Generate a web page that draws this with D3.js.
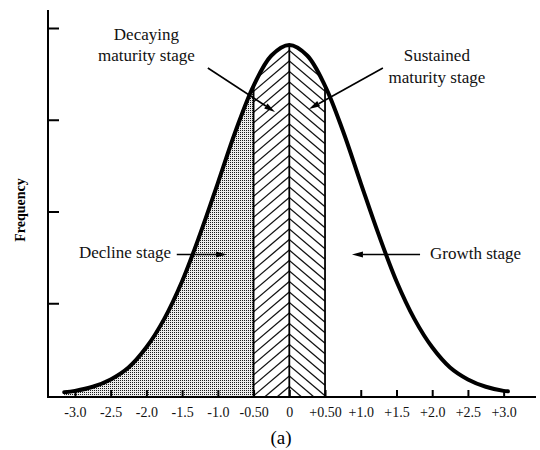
<!DOCTYPE html>
<html><head><meta charset="utf-8">
<script src="https://cdn.jsdelivr.net/npm/d3@7"></script>
<style>html,body{margin:0;padding:0;background:#fff;}svg{display:block;}</style>
</head><body>
<svg id="chart" width="540" height="450"></svg>
<script>
// ---- data ----
const curveX = [-3.15,-3.0,-2.75,-2.5,-2.25,-2.0,-1.75,-1.5,-1.25,-1.0,-0.75,-0.5,-0.25,0,0.25,0.5,0.75,1.0,1.25,1.5,1.75,2.0,2.25,2.5,2.75,3.0,3.06];
const curveY = [0.03,0.045,0.09,0.17,0.30,0.52,0.83,1.24,1.75,2.31,2.88,3.37,3.70,3.815,3.70,3.37,2.88,2.31,1.75,1.24,0.83,0.52,0.30,0.17,0.09,0.045,0.04];
const xTickValues = [-3.0,-2.5,-2.0,-1.5,-1.0,-0.5,0,0.5,1.0,1.5,2.0,2.5,3.0];
const xTickLabels = ["-3.0","-2.5","-2.0","-1.5","-1.0","-0.50","0","+0.50","+1.0","+1.5","+2.0","+2.5","+3.0"];
const yTickValues = [1,2,3,4];
const stageBounds = [-0.5, 0, 0.5];
const annotations = [
  {lines:["Decaying","maturity stage"], x:-2.0, y:[3.87,3.64], anchor:"middle", from:[-1.14,3.564], to:[-0.20,3.084]},
  {lines:["Sustained","maturity stage"], x:2.065, y:[3.64,3.40], anchor:"middle", from:[1.31,3.564], to:[0.276,3.117]},
  {lines:["Decline stage"], x:-2.944, y:[1.49], anchor:"start", from:[-1.575,1.531], to:[-0.873,1.531]},
  {lines:["Growth stage"], x:1.97, y:[1.48], anchor:"start", from:[1.83,1.531], to:[0.877,1.531]}
];

const svg = d3.select("#chart");
const x = d3.scaleLinear().domain([0,3]).range([289.3, 503.65]);
const y = d3.scaleLinear().domain([0,4]).range([395, 28]);
const axisY = 397, axisX = 48;
const pts = curveX.map((v,i)=>[v,curveY[i]]);
const serif = "'Liberation Serif','Times New Roman',serif";

// pattern for stipple
const defs = svg.append("defs");
const pat = defs.append("pattern").attr("id","stip").attr("patternUnits","userSpaceOnUse").attr("width",2).attr("height",2);
pat.append("rect").attr("width",2).attr("height",2).attr("fill","#ececec");
pat.append("rect").attr("width",1).attr("height",1).attr("fill","#1a1a1a");

const line = d3.line().x(d=>x(d[0])).y(d=>y(d[1])).curve(d3.curveCatmullRom.alpha(0.5));
const area = d3.area().x(d=>x(d[0])).y0(axisY).y1(d=>y(d[1])).curve(d3.curveCatmullRom.alpha(0.5));

// clip paths
function clipRange(id, a, b){
  const cp = defs.append("clipPath").attr("id", id);
  cp.append("path").attr("d", area(pts));
  const cp2 = defs.append("clipPath").attr("id", id+"r");
  cp2.append("rect").attr("x", x(a)).attr("y", 0).attr("width", x(b)-x(a)).attr("height", axisY);
}
clipRange("cL", -0.5, 0);
clipRange("cR", 0, 0.5);
clipRange("cS", -3.3, -0.5);

// stippled decline region
svg.append("g").attr("clip-path","url(#cSr)")
  .append("path").attr("d", area(pts)).attr("fill","url(#stip)");

// hatching
const slope = 0.85, step = 10.5;
const gL = svg.append("g").attr("clip-path","url(#cLr)").append("g").attr("clip-path","url(#cL)");
const gR = svg.append("g").attr("clip-path","url(#cRr)").append("g").attr("clip-path","url(#cR)");
const x0 = x(0), xl = x(-0.5), xr = x(0.5);
for(let k=-6;k<40;k++){
  const yk = axisY - k*step;
  gL.append("line").attr("x1",x0).attr("y1",yk).attr("x2",xl).attr("y2",yk+slope*(x0-xl))
    .attr("stroke","#111").attr("stroke-width",1.3);
  gR.append("line").attr("x1",x0).attr("y1",yk).attr("x2",xr).attr("y2",yk+slope*(xr-x0))
    .attr("stroke","#111").attr("stroke-width",1.3);
}
// stage boundary verticals
const interp = v => {
  const p = svg.append("path").attr("d", line(pts)).attr("fill","none");
  const node = p.node(), L = node.getTotalLength();
  let lo=0, hi=L;
  for(let i=0;i<40;i++){const m=(lo+hi)/2; if(node.getPointAtLength(m).x < x(v)) lo=m; else hi=m;}
  const yy = node.getPointAtLength(lo).y; p.remove(); return yy;
};
stageBounds.forEach(v=>{
  svg.append("line").attr("x1",x(v)).attr("x2",x(v)).attr("y1",axisY).attr("y2",interp(v))
    .attr("stroke","#000").attr("stroke-width",1.8);
});

// curve
svg.append("path").attr("d", line(pts)).attr("fill","none").attr("stroke","#000")
  .attr("stroke-width",4).attr("stroke-linecap","round").attr("stroke-linejoin","round");

// axes
svg.append("line").attr("x1",axisX).attr("x2",axisX).attr("y1",10).attr("y2",axisY+1).attr("stroke","#000").attr("stroke-width",2);
svg.append("line").attr("x1",axisX-1).attr("x2",536).attr("y1",axisY).attr("y2",axisY).attr("stroke","#000").attr("stroke-width",2);

const gx = svg.append("g").attr("transform",`translate(0,${axisY})`)
  .call(d3.axisBottom(x).tickValues(xTickValues).tickSize(-7).tickPadding(10)
    .tickFormat((d,i)=>xTickLabels[i]));
gx.select(".domain").remove();
gx.selectAll(".tick line").attr("stroke","#000").attr("stroke-width",2);
gx.selectAll(".tick text").attr("font-family",serif).attr("font-size",14).attr("fill","#111");

const gy = svg.append("g").attr("transform",`translate(${axisX},0)`)
  .call(d3.axisRight(y).tickValues(yTickValues).tickSize(11).tickFormat(""));
gy.select(".domain").remove();
gy.selectAll(".tick line").attr("stroke","#000").attr("stroke-width",2);

// axis titles
svg.append("text").attr("transform","translate(25,210) rotate(-90)").attr("text-anchor","middle")
  .attr("font-family",serif).attr("font-weight","bold").attr("font-size",14).text("Frequency");
svg.append("text").attr("x",281).attr("y",444).attr("text-anchor","middle")
  .attr("font-family",serif).attr("font-size",19).text("(a)");

// annotations
annotations.forEach(a=>{
  a.lines.forEach((t,i)=>{
    svg.append("text").attr("x",x(a.x)).attr("y",y(a.y[i])).attr("text-anchor",a.anchor)
      .attr("font-family",serif).attr("font-size",17).attr("fill","#111").text(t);
  });
  const fx=x(a.from[0]), fy=y(a.from[1]), tx=x(a.to[0]), ty=y(a.to[1]);
  const ang=Math.atan2(ty-fy,tx-fx), hl=11, hw=3;
  const bx=tx-hl*Math.cos(ang), by=ty-hl*Math.sin(ang);
  svg.append("line").attr("x1",fx).attr("y1",fy).attr("x2",bx).attr("y2",by).attr("stroke","#000").attr("stroke-width",1.6);
  const px=-Math.sin(ang)*hw, py=Math.cos(ang)*hw;
  svg.append("path").attr("d",`M${tx},${ty}L${bx+px},${by+py}L${bx-px},${by-py}Z`).attr("fill","#000");
});
</script>
</body></html>
